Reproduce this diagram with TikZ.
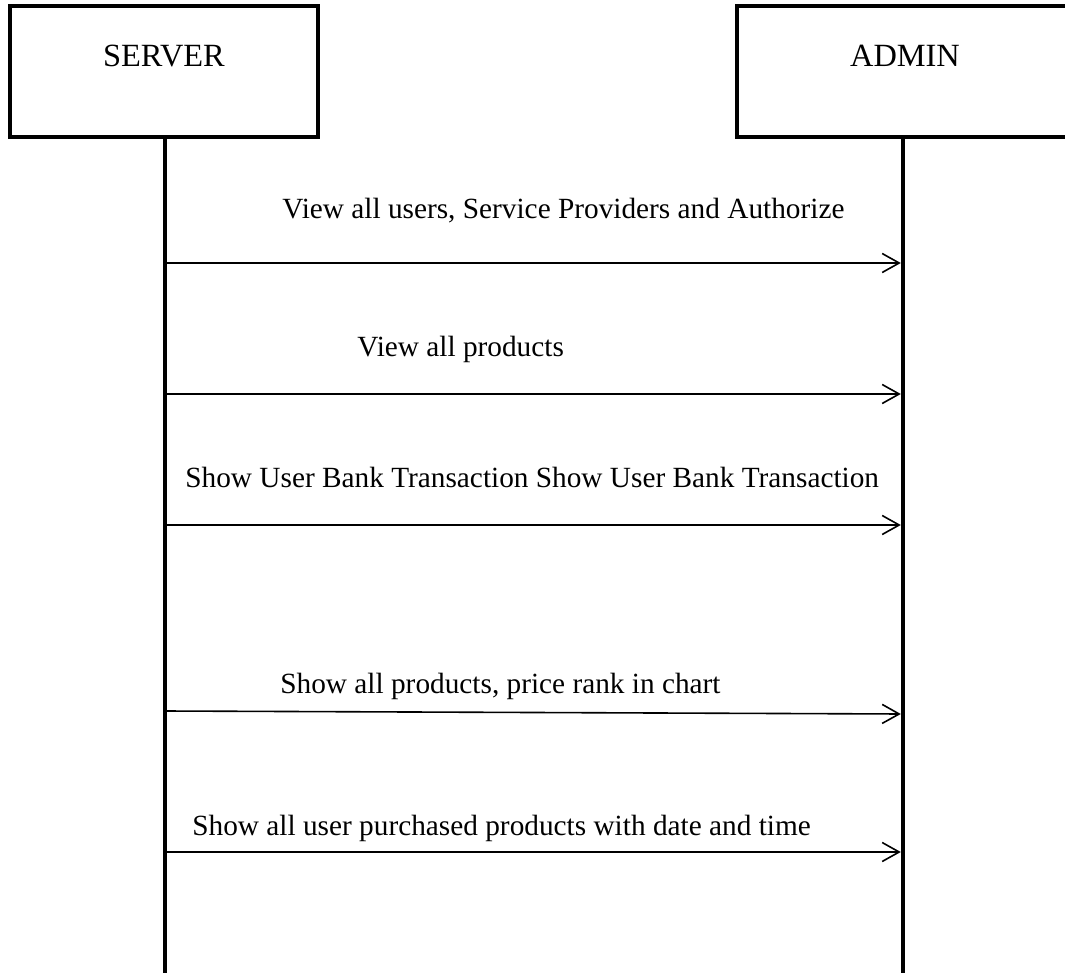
\documentclass[tikz,border=0pt]{standalone}
\usepackage{fontspec}
\setmainfont{Liberation Serif}
\usetikzlibrary{arrows.meta}

\begin{document}
\begin{tikzpicture}[x=0.5pt, y=-0.5pt,
        lifebox/.style={draw=black, line width=2pt, rectangle, minimum height=65.5pt,
            text height=10.8pt, text depth=15.3pt, font=\fontsize{16.2}{19}\selectfont},
        lifeline/.style={black, line width=2.2pt},
        msg/.style={black, line width=0.8pt, shorten >=1.1pt,
            -{Straight Barb[length=8.5pt, width=9.5pt, line width=0.8pt]}},
        msglabel/.style={anchor=base west, inner sep=0pt, font=\fontsize{14.65}{17}\selectfont}]
            \useasboundingbox (0,0) rectangle (1065,973);

            \node[lifebox, minimum width=154pt] (server) at (164,71.5) {SERVER};
            \node[lifebox, minimum width=168pt] (admin) at (905,71.5) {ADMIN};

            \coordinate (serverend) at (165,973);
            \coordinate (adminend) at (903,973);
            \draw[lifeline] (server.south -| serverend) -- (serverend);
            \draw[lifeline] (admin.south -| adminend) -- (adminend);

            \coordinate (s1) at (165,263);
            \coordinate (s2) at (165,394);
            \coordinate (s3) at (165,525);
            \coordinate (s4) at (165,711);
            \coordinate (s5) at (165,852);
            \coordinate (a1) at (903,263);
            \coordinate (a2) at (903,394);
            \coordinate (a3) at (903,525);
            \coordinate (a4) at (903,714);
            \coordinate (a5) at (903,852);

            \draw[msg] (s1) -- (a1);
            \draw[msg] (s2) -- (a2);
            \draw[msg] (s3) -- (a3);
            \draw[msg] (s4) -- (a4);
            \draw[msg] (s5) -- (a5);

            \node[msglabel] (lbl1) at (282,219) {View all users, Service Providers and Authorize};
            \node[msglabel] (lbl2) at (357,356) {View all products};
            \node[msglabel] (lbl3) at (185,487) {Show User Bank Transaction Show User Bank Transaction};
            \node[msglabel] (lbl4) at (280,693) {Show all products, price rank in chart};
            \node[msglabel] (lbl5) at (192,835) {Show all user purchased products with date and time};

        \end{tikzpicture}
\end{document}
